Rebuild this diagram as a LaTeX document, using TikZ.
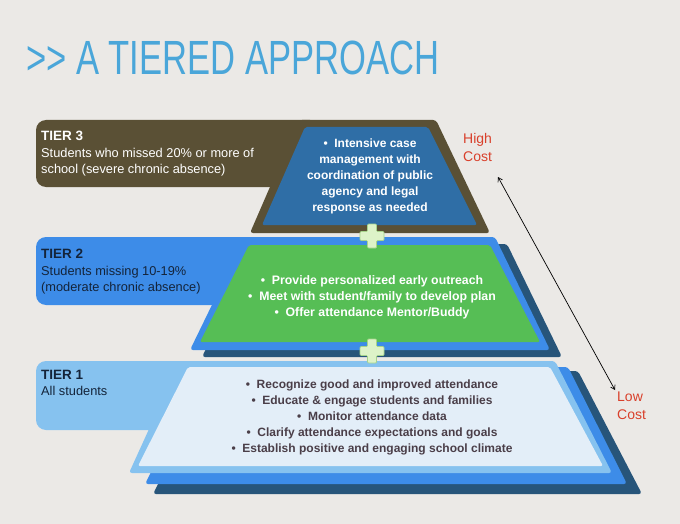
\documentclass[tikz,border=0pt]{standalone}
\usepackage{fontspec}
\setmainfont{Liberation Sans}
\usetikzlibrary{arrows.meta}
\definecolor{bg}{HTML}{EBE9E6}
\definecolor{titleblue}{HTML}{4AA6D9}
\definecolor{olive}{HTML}{5A5035}
\definecolor{steel}{HTML}{2F6EA6}
\definecolor{brightblue}{HTML}{3D8CE8}
\definecolor{darkshadow}{HTML}{27557A}
\definecolor{grass}{HTML}{56BE55}
\definecolor{lightblue}{HTML}{86C2EF}
\definecolor{paleblue}{HTML}{E3EEF8}
\definecolor{plusfill}{HTML}{DDF3C8}
\definecolor{plusedge}{HTML}{A6D48A}
\definecolor{costred}{HTML}{D9402B}
\definecolor{bodygray}{HTML}{4A3E48}
\definecolor{navy}{HTML}{14243A}
\begin{document}
\begin{tikzpicture}[x=1pt,y=-1pt,
  labeltext/.style={anchor=north west,align=left,inner sep=0pt,font=\fontsize{12.8}{16.5}\selectfont},
  innertext/.style={align=center,inner sep=0pt,font=\bfseries\fontsize{12}{16}\selectfont},
  costtext/.style={anchor=north west,align=left,inner sep=0pt,text=costred,font=\fontsize{14}{18}\selectfont},
  plussign/.pic={\fill[plusfill,draw=plusedge,line width=0.7pt,rounded corners=1pt]
    (-4.5,-12) -- (4.5,-12) -- (4.5,-4.5) -- (12,-4.5) -- (12,4.5) -- (4.5,4.5) -- (4.5,12)
    -- (-4.5,12) -- (-4.5,4.5) -- (-12,4.5) -- (-12,-4.5) -- (-4.5,-4.5) -- cycle;}
]
\useasboundingbox[fill=bg] (0,0) rectangle (680,524);

% title
\node[anchor=west,inner sep=0pt,text=titleblue,font=\fontsize{48}{50}\selectfont] (title) at (26,58)
  {\scalebox{0.72}[1]{>{}> A TIERED APPROACH}};

% ---------- Tier 1 ----------
\fill[darkshadow,rounded corners=3pt] (215,371) -- (578,371) -- (642,494) -- (153,494) -- cycle;
\fill[brightblue,rounded corners=3pt] (204,367) -- (568,367) -- (627,484) -- (145,484) -- cycle;
\fill[lightblue,rounded corners=10pt] (36,361) rectangle (300,430);
\fill[lightblue,rounded corners=3pt] (180,361) -- (555,361) -- (612,473) -- (129,473) -- cycle;
\fill[paleblue,rounded corners=2pt] (188,367) -- (550,367) -- (603,466) -- (138,466) -- cycle;

% ---------- Tier 2 ----------
\fill[darkshadow,rounded corners=3pt] (257,244) -- (507,244) -- (562,357) -- (202,357) -- cycle;
\fill[brightblue,rounded corners=10pt] (36,237) rectangle (320,305);
\fill[brightblue,rounded corners=3pt] (245,237) -- (495,237) -- (550,350) -- (190,350) -- cycle;
\fill[grass,rounded corners=2pt] (249,245) -- (490,245) -- (540,342) -- (200,342) -- cycle;

% ---------- Tier 3 ----------
\fill[olive,rounded corners=10pt] (36,120) rectangle (320,187);
\fill[olive,rounded corners=3pt] (299,120) -- (436,120) -- (490,233) -- (250,233) -- cycle;
\fill[steel,rounded corners=2pt] (305,127) -- (428,127) -- (477,225) -- (262,225) -- cycle;

% plus signs
\pic (plusA) at (372,236) {plussign};
\pic (plusB) at (372,351) {plussign};

% labels
\node[labeltext,text=white] (t3) at (41,131)
  {\textbf{\fontsize{13.5}{16.5}\selectfont TIER 3}\\Students who missed 20\% or more of\\school (severe chronic absence)};
\node[labeltext,text=navy] (t2) at (41,249)
  {\textbf{\fontsize{13.5}{16.5}\selectfont TIER 2}\\Students missing 10-19\%\\(moderate chronic absence)};
\node[labeltext,text=navy] (t1) at (41,370)
  {\textbf{\fontsize{13.5}{16.5}\selectfont TIER 1}\\All students};

% inner texts
\node[innertext,text=white] (i3) at (370,176)
  {•\ \ Intensive case\\management with\\coordination of public\\agency and legal\\response as needed};
\node[innertext,text=white,font=\bfseries\fontsize{12.3}{16}\selectfont] (i2) at (372,297)
  {•\ \ Provide personalized early outreach\\•\ \ Meet with student/family to develop plan\\•\ \ Offer attendance Mentor/Buddy};
\node[innertext,text=bodygray] (i1) at (372,417)
  {•\ \ Recognize good and improved attendance\\•\ \ Educate \& engage students and families\\•\ \ Monitor attendance data\\•\ \ Clarify attendance expectations and goals\\•\ \ Establish positive and engaging school climate};

% cost
\node[costtext] (high) at (463,133) {High\\Cost};
\node[costtext] (low) at (617,392) {Low\\Cost};
\coordinate (arrTop) at (498,177);
\coordinate (arrBot) at (615,390);
\draw[{Straight Barb[length=4pt,width=5pt]}-{Straight Barb[length=4pt,width=5pt]},line width=0.7pt] (arrTop) -- (arrBot);
\end{tikzpicture}
\end{document}
